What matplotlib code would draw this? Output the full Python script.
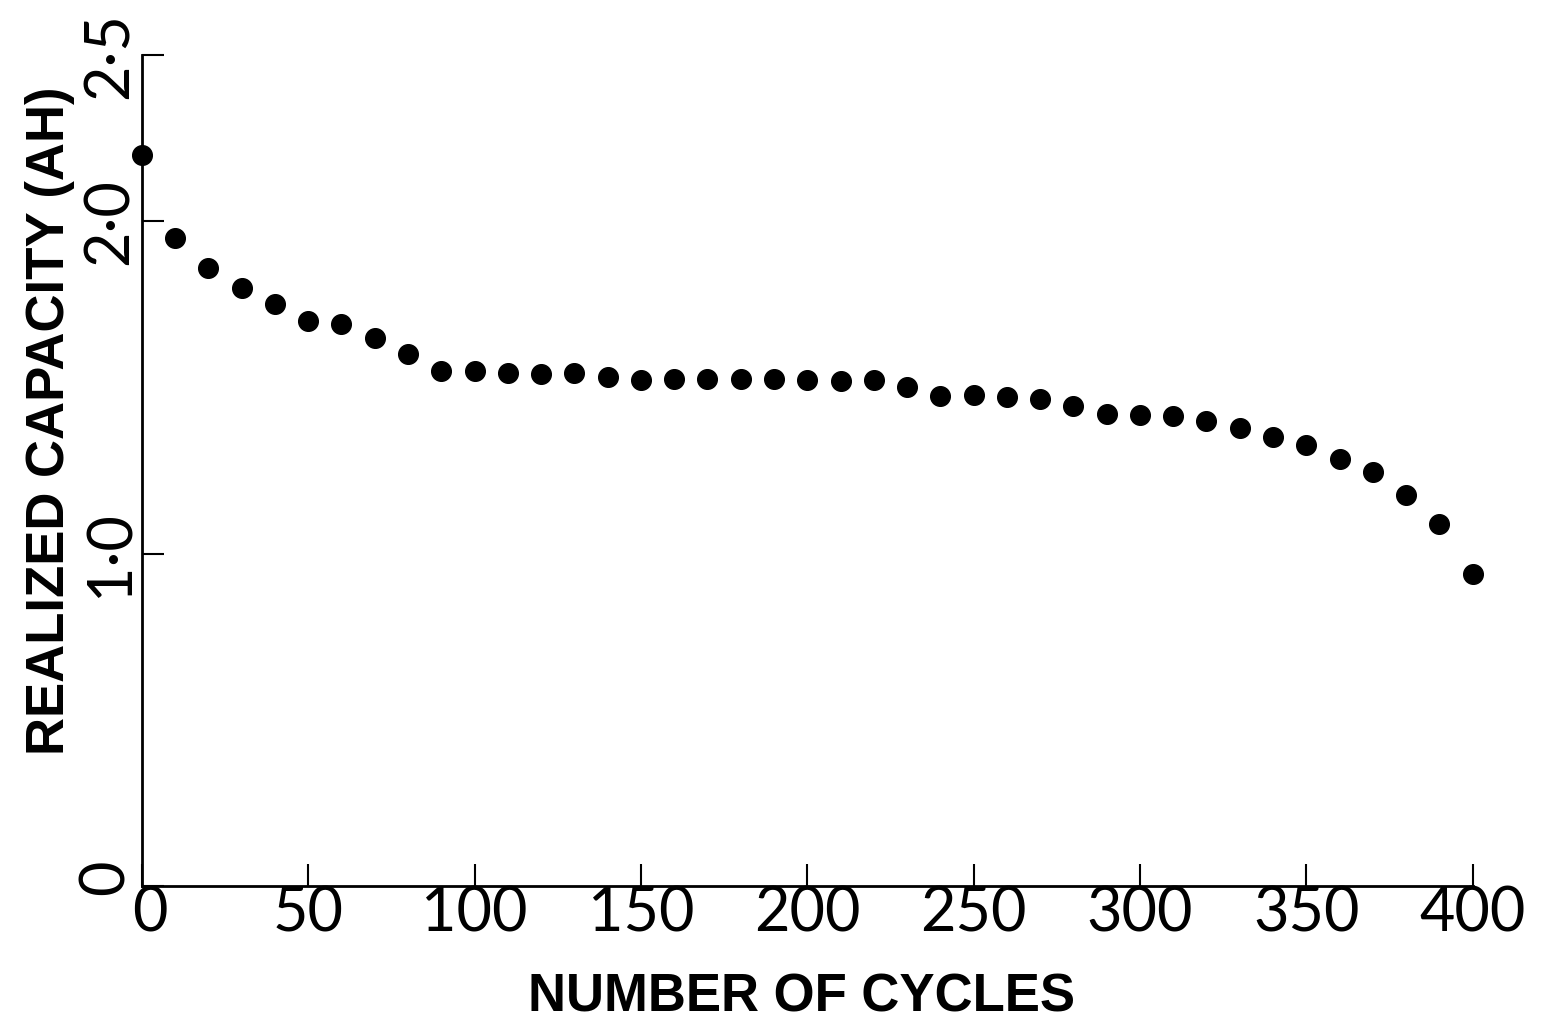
import numpy as np
import matplotlib.pyplot as plt
import matplotlib.transforms as mtransforms

# cycles and realized capacity
cycles = [0, 10, 20, 30, 40, 50, 60, 70, 80, 90, 100, 110, 120, 130, 140, 150,
          160, 170, 180, 190, 200, 210, 220, 230, 240, 250, 260, 270, 280, 290,
          300, 310, 320, 330, 340, 350, 360, 370, 380, 390, 400]
capacity = [2.20, 1.95, 1.86, 1.80, 1.75, 1.70, 1.69, 1.65, 1.60, 1.55, 1.55,
            1.544, 1.541, 1.544, 1.532, 1.523, 1.526, 1.526, 1.526, 1.526, 1.523,
            1.520, 1.523, 1.50, 1.474, 1.477, 1.471, 1.465, 1.444, 1.420, 1.417,
            1.414, 1.399, 1.378, 1.351, 1.327, 1.285, 1.246, 1.177, 1.090, 0.94]

xticks = [0, 50, 100, 150, 200, 250, 300, 350, 400]
yticks = [0, 1.0, 2.0, 2.5]
ylabels = ['0', '1\u00b70', '2\u00b70', '2\u00b75']

fig = plt.figure(figsize=(15.42, 10.24), dpi=100)
ax = fig.add_axes([0.092, 0.135, 0.863, 0.811])

ax.scatter(cycles, capacity, s=200, color='black', zorder=3, clip_on=False)

ax.set_xlim(0, 400)
ax.set_ylim(0, 2.5)
ax.spines['top'].set_visible(False)
ax.spines['right'].set_visible(False)
ax.spines['left'].set_linewidth(2)
ax.spines['bottom'].set_linewidth(2)

ax.set_xticks(xticks)
ax.set_xticklabels([str(t) for t in xticks], fontsize=44, family='Lato', fontweight='normal')
ax.set_yticks(yticks)
ax.set_yticklabels(ylabels, fontsize=44, family='Lato', fontweight='normal', rotation=90, va='center')
ax.tick_params(direction='in', length=16, width=1.5)
ax.tick_params(axis='x', pad=0)
ax.tick_params(axis='y', pad=2)

# nudge the two zeros at the origin apart a little
x0 = ax.get_xticklabels()[0]
x0.set_transform(x0.get_transform() + mtransforms.ScaledTranslation(6 / 72, 0, fig.dpi_scale_trans))
y0 = ax.get_yticklabels()[0]
y0.set_transform(y0.get_transform() + mtransforms.ScaledTranslation(-3 / 72, 6 / 72, fig.dpi_scale_trans))

ax.set_xlabel('NUMBER OF CYCLES', fontsize=38, family='Liberation Sans', fontweight='bold')
ax.set_ylabel('REALIZED CAPACITY (AH)', fontsize=38, family='Liberation Sans', fontweight='bold')
ax.xaxis.set_label_coords(0.496, -0.105)
ax.yaxis.set_label_coords(-0.05, 0.56)

fig.savefig('out.png', dpi=100, facecolor='white')
